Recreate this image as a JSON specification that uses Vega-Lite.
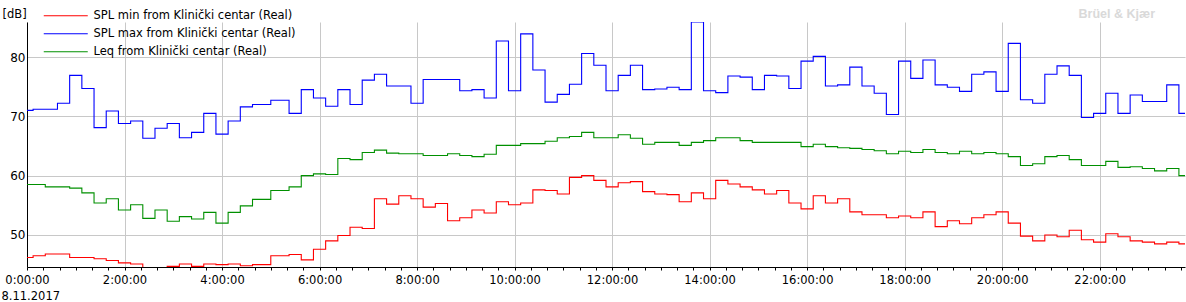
{
  "$schema": "https://vega.github.io/schema/vega-lite/v6.json",
  "width": 1158,
  "height": 245,
  "autosize": {"type": "none"},
  "padding": {"left": 27, "top": 22, "right": 1, "bottom": 35},
  "background": "white",
  "config": {"view": {"stroke": null}, "font": "DejaVu Sans"},
  "layer": [
    {
      "data": {
        "values": [
          {"t": "2017-11-08T00:00:00", "min": 46.2, "max": 71.0, "leq": 58.5},
          {"t": "2017-11-08T00:07:30", "min": 46.5, "max": 71.2, "leq": 58.5},
          {"t": "2017-11-08T00:22:30", "min": 46.8, "max": 71.2, "leq": 58.1},
          {"t": "2017-11-08T00:37:30", "min": 46.8, "max": 72.2, "leq": 58.1},
          {"t": "2017-11-08T00:52:30", "min": 46.2, "max": 76.9, "leq": 57.9},
          {"t": "2017-11-08T01:07:30", "min": 46.2, "max": 74.7, "leq": 57.1},
          {"t": "2017-11-08T01:22:30", "min": 46.0, "max": 68.1, "leq": 55.4},
          {"t": "2017-11-08T01:37:30", "min": 45.7, "max": 70.9, "leq": 56.1},
          {"t": "2017-11-08T01:52:30", "min": 45.3, "max": 68.8, "leq": 54.2},
          {"t": "2017-11-08T02:07:30", "min": 45.1, "max": 69.2, "leq": 55.1},
          {"t": "2017-11-08T02:22:30", "min": 44.3, "max": 66.3, "leq": 52.8},
          {"t": "2017-11-08T02:37:30", "min": 44.3, "max": 68.0, "leq": 54.2},
          {"t": "2017-11-08T02:52:30", "min": 44.7, "max": 68.8, "leq": 52.3},
          {"t": "2017-11-08T03:07:30", "min": 45.1, "max": 66.4, "leq": 53.1},
          {"t": "2017-11-08T03:22:30", "min": 44.7, "max": 67.3, "leq": 52.7},
          {"t": "2017-11-08T03:37:30", "min": 45.1, "max": 70.5, "leq": 53.8},
          {"t": "2017-11-08T03:52:30", "min": 45.0, "max": 67.0, "leq": 52.0},
          {"t": "2017-11-08T04:07:30", "min": 45.1, "max": 69.2, "leq": 53.8},
          {"t": "2017-11-08T04:22:30", "min": 44.8, "max": 71.6, "leq": 54.9},
          {"t": "2017-11-08T04:37:30", "min": 45.0, "max": 72.0, "leq": 56.0},
          {"t": "2017-11-08T05:00:00", "min": 46.5, "max": 72.7, "leq": 57.5},
          {"t": "2017-11-08T05:22:30", "min": 46.7, "max": 70.5, "leq": 58.1},
          {"t": "2017-11-08T05:37:30", "min": 45.8, "max": 74.5, "leq": 60.0},
          {"t": "2017-11-08T05:52:30", "min": 47.6, "max": 73.1, "leq": 60.3},
          {"t": "2017-11-08T06:07:30", "min": 49.0, "max": 71.7, "leq": 60.2},
          {"t": "2017-11-08T06:22:30", "min": 49.9, "max": 74.5, "leq": 62.9},
          {"t": "2017-11-08T06:37:30", "min": 51.3, "max": 72.0, "leq": 62.7},
          {"t": "2017-11-08T06:52:30", "min": 51.1, "max": 76.1, "leq": 63.9},
          {"t": "2017-11-08T07:07:30", "min": 56.1, "max": 77.1, "leq": 64.3},
          {"t": "2017-11-08T07:22:30", "min": 55.2, "max": 75.1, "leq": 63.8},
          {"t": "2017-11-08T07:37:30", "min": 56.6, "max": 75.1, "leq": 63.7},
          {"t": "2017-11-08T07:52:30", "min": 56.1, "max": 72.2, "leq": 63.7},
          {"t": "2017-11-08T08:07:30", "min": 54.7, "max": 76.2, "leq": 63.4},
          {"t": "2017-11-08T08:22:30", "min": 55.3, "max": 76.2, "leq": 63.4},
          {"t": "2017-11-08T08:37:30", "min": 52.4, "max": 76.2, "leq": 63.7},
          {"t": "2017-11-08T08:52:30", "min": 52.9, "max": 74.3, "leq": 63.4},
          {"t": "2017-11-08T09:07:30", "min": 54.2, "max": 74.5, "leq": 63.2},
          {"t": "2017-11-08T09:22:30", "min": 53.7, "max": 73.1, "leq": 63.6},
          {"t": "2017-11-08T09:37:30", "min": 55.6, "max": 82.7, "leq": 65.1},
          {"t": "2017-11-08T09:52:30", "min": 55.1, "max": 74.3, "leq": 65.1},
          {"t": "2017-11-08T10:07:30", "min": 55.4, "max": 83.9, "leq": 65.4},
          {"t": "2017-11-08T10:22:30", "min": 57.6, "max": 77.8, "leq": 65.4},
          {"t": "2017-11-08T10:37:30", "min": 57.5, "max": 72.4, "leq": 65.8},
          {"t": "2017-11-08T10:52:30", "min": 56.9, "max": 73.7, "leq": 66.4},
          {"t": "2017-11-08T11:07:30", "min": 59.7, "max": 75.4, "leq": 66.6},
          {"t": "2017-11-08T11:22:30", "min": 60.0, "max": 80.6, "leq": 67.3},
          {"t": "2017-11-08T11:37:30", "min": 59.2, "max": 78.6, "leq": 66.4},
          {"t": "2017-11-08T11:52:30", "min": 58.1, "max": 74.3, "leq": 66.4},
          {"t": "2017-11-08T12:07:30", "min": 58.8, "max": 76.9, "leq": 66.9},
          {"t": "2017-11-08T12:22:30", "min": 59.0, "max": 78.6, "leq": 66.3},
          {"t": "2017-11-08T12:37:30", "min": 57.3, "max": 74.5, "leq": 65.3},
          {"t": "2017-11-08T12:52:30", "min": 56.9, "max": 74.6, "leq": 65.6},
          {"t": "2017-11-08T13:07:30", "min": 56.8, "max": 74.9, "leq": 65.6},
          {"t": "2017-11-08T13:22:30", "min": 55.6, "max": 74.5, "leq": 65.1},
          {"t": "2017-11-08T13:37:30", "min": 57.1, "max": 85.9, "leq": 65.6},
          {"t": "2017-11-08T13:52:30", "min": 56.1, "max": 74.3, "leq": 65.9},
          {"t": "2017-11-08T14:07:30", "min": 59.2, "max": 74.0, "leq": 66.4},
          {"t": "2017-11-08T14:22:30", "min": 58.6, "max": 76.8, "leq": 66.4},
          {"t": "2017-11-08T14:37:30", "min": 58.1, "max": 76.6, "leq": 65.9},
          {"t": "2017-11-08T14:52:30", "min": 57.6, "max": 74.5, "leq": 65.6},
          {"t": "2017-11-08T15:07:30", "min": 56.9, "max": 76.9, "leq": 65.6},
          {"t": "2017-11-08T15:22:30", "min": 57.5, "max": 76.8, "leq": 65.6},
          {"t": "2017-11-08T15:37:30", "min": 55.4, "max": 74.7, "leq": 65.6},
          {"t": "2017-11-08T15:52:30", "min": 54.4, "max": 79.3, "leq": 64.9},
          {"t": "2017-11-08T16:07:30", "min": 56.6, "max": 80.1, "leq": 65.3},
          {"t": "2017-11-08T16:22:30", "min": 55.4, "max": 75.1, "leq": 64.9},
          {"t": "2017-11-08T16:37:30", "min": 56.1, "max": 75.3, "leq": 64.7},
          {"t": "2017-11-08T16:52:30", "min": 53.9, "max": 78.3, "leq": 64.6},
          {"t": "2017-11-08T17:07:30", "min": 53.4, "max": 75.1, "leq": 64.4},
          {"t": "2017-11-08T17:22:30", "min": 53.4, "max": 73.9, "leq": 64.2},
          {"t": "2017-11-08T17:37:30", "min": 52.9, "max": 70.3, "leq": 63.7},
          {"t": "2017-11-08T17:52:30", "min": 53.2, "max": 79.3, "leq": 64.1},
          {"t": "2017-11-08T18:07:30", "min": 52.9, "max": 76.4, "leq": 63.9},
          {"t": "2017-11-08T18:22:30", "min": 53.9, "max": 79.5, "leq": 64.4},
          {"t": "2017-11-08T18:37:30", "min": 51.4, "max": 75.3, "leq": 63.9},
          {"t": "2017-11-08T18:52:30", "min": 52.4, "max": 74.9, "leq": 63.7},
          {"t": "2017-11-08T19:07:30", "min": 51.9, "max": 74.2, "leq": 64.1},
          {"t": "2017-11-08T19:22:30", "min": 52.9, "max": 77.1, "leq": 63.7},
          {"t": "2017-11-08T19:37:30", "min": 53.4, "max": 77.5, "leq": 63.9},
          {"t": "2017-11-08T19:52:30", "min": 53.9, "max": 74.2, "leq": 63.7},
          {"t": "2017-11-08T20:07:30", "min": 52.0, "max": 82.3, "leq": 63.2},
          {"t": "2017-11-08T20:22:30", "min": 49.8, "max": 72.8, "leq": 61.7},
          {"t": "2017-11-08T20:37:30", "min": 49.0, "max": 72.2, "leq": 62.0},
          {"t": "2017-11-08T20:52:30", "min": 50.0, "max": 77.1, "leq": 63.2},
          {"t": "2017-11-08T21:07:30", "min": 49.7, "max": 78.5, "leq": 63.4},
          {"t": "2017-11-08T21:22:30", "min": 50.8, "max": 76.9, "leq": 62.7},
          {"t": "2017-11-08T21:37:30", "min": 49.2, "max": 69.8, "leq": 61.7},
          {"t": "2017-11-08T21:52:30", "min": 48.8, "max": 70.5, "leq": 61.7},
          {"t": "2017-11-08T22:07:30", "min": 50.2, "max": 73.9, "leq": 62.4},
          {"t": "2017-11-08T22:22:30", "min": 49.7, "max": 70.5, "leq": 61.4},
          {"t": "2017-11-08T22:37:30", "min": 49.0, "max": 73.6, "leq": 61.5},
          {"t": "2017-11-08T22:52:30", "min": 48.8, "max": 72.5, "leq": 61.2},
          {"t": "2017-11-08T23:07:30", "min": 48.5, "max": 72.5, "leq": 60.8},
          {"t": "2017-11-08T23:22:30", "min": 48.8, "max": 75.3, "leq": 61.2},
          {"t": "2017-11-08T23:37:30", "min": 48.5, "max": 70.5, "leq": 60.0},
          {"t": "2017-11-08T23:45:00", "min": 48.5, "max": 70.5, "leq": 60.0}
        ]
      },
      "transform": [{"fold": ["min", "max", "leq"], "as": ["series", "value"]}],
      "mark": {"type": "line", "interpolate": "step-after", "strokeWidth": 1.1, "clip": true},
      "encoding": {
        "x": {
          "field": "t",
          "type": "temporal",
          "scale": {
            "domain": [
              {"year": 2017, "month": 11, "date": 8, "hours": 0, "minutes": 0},
              {"year": 2017, "month": 11, "date": 8, "hours": 23, "minutes": 45}
            ]
          },
          "axis": {
            "title": "8.11.2017",
            "titleX": -26,
            "titleY": 23,
            "titleAlign": "left",
            "titleFontWeight": "normal",
            "titleFontSize": 11.5,
            "titleColor": "#000000",
            "format": "%-H:%M:%S",
            "tickCount": 100,
            "values": [
              {"year": 2017, "month": 11, "date": 8, "hours": 0, "minutes": 0},
              {"year": 2017, "month": 11, "date": 8, "hours": 0, "minutes": 20},
              {"year": 2017, "month": 11, "date": 8, "hours": 0, "minutes": 40},
              {"year": 2017, "month": 11, "date": 8, "hours": 1, "minutes": 0},
              {"year": 2017, "month": 11, "date": 8, "hours": 1, "minutes": 20},
              {"year": 2017, "month": 11, "date": 8, "hours": 1, "minutes": 40},
              {"year": 2017, "month": 11, "date": 8, "hours": 2, "minutes": 0},
              {"year": 2017, "month": 11, "date": 8, "hours": 2, "minutes": 20},
              {"year": 2017, "month": 11, "date": 8, "hours": 2, "minutes": 40},
              {"year": 2017, "month": 11, "date": 8, "hours": 3, "minutes": 0},
              {"year": 2017, "month": 11, "date": 8, "hours": 3, "minutes": 20},
              {"year": 2017, "month": 11, "date": 8, "hours": 3, "minutes": 40},
              {"year": 2017, "month": 11, "date": 8, "hours": 4, "minutes": 0},
              {"year": 2017, "month": 11, "date": 8, "hours": 4, "minutes": 20},
              {"year": 2017, "month": 11, "date": 8, "hours": 4, "minutes": 40},
              {"year": 2017, "month": 11, "date": 8, "hours": 5, "minutes": 0},
              {"year": 2017, "month": 11, "date": 8, "hours": 5, "minutes": 20},
              {"year": 2017, "month": 11, "date": 8, "hours": 5, "minutes": 40},
              {"year": 2017, "month": 11, "date": 8, "hours": 6, "minutes": 0},
              {"year": 2017, "month": 11, "date": 8, "hours": 6, "minutes": 20},
              {"year": 2017, "month": 11, "date": 8, "hours": 6, "minutes": 40},
              {"year": 2017, "month": 11, "date": 8, "hours": 7, "minutes": 0},
              {"year": 2017, "month": 11, "date": 8, "hours": 7, "minutes": 20},
              {"year": 2017, "month": 11, "date": 8, "hours": 7, "minutes": 40},
              {"year": 2017, "month": 11, "date": 8, "hours": 8, "minutes": 0},
              {"year": 2017, "month": 11, "date": 8, "hours": 8, "minutes": 20},
              {"year": 2017, "month": 11, "date": 8, "hours": 8, "minutes": 40},
              {"year": 2017, "month": 11, "date": 8, "hours": 9, "minutes": 0},
              {"year": 2017, "month": 11, "date": 8, "hours": 9, "minutes": 20},
              {"year": 2017, "month": 11, "date": 8, "hours": 9, "minutes": 40},
              {"year": 2017, "month": 11, "date": 8, "hours": 10, "minutes": 0},
              {"year": 2017, "month": 11, "date": 8, "hours": 10, "minutes": 20},
              {"year": 2017, "month": 11, "date": 8, "hours": 10, "minutes": 40},
              {"year": 2017, "month": 11, "date": 8, "hours": 11, "minutes": 0},
              {"year": 2017, "month": 11, "date": 8, "hours": 11, "minutes": 20},
              {"year": 2017, "month": 11, "date": 8, "hours": 11, "minutes": 40},
              {"year": 2017, "month": 11, "date": 8, "hours": 12, "minutes": 0},
              {"year": 2017, "month": 11, "date": 8, "hours": 12, "minutes": 20},
              {"year": 2017, "month": 11, "date": 8, "hours": 12, "minutes": 40},
              {"year": 2017, "month": 11, "date": 8, "hours": 13, "minutes": 0},
              {"year": 2017, "month": 11, "date": 8, "hours": 13, "minutes": 20},
              {"year": 2017, "month": 11, "date": 8, "hours": 13, "minutes": 40},
              {"year": 2017, "month": 11, "date": 8, "hours": 14, "minutes": 0},
              {"year": 2017, "month": 11, "date": 8, "hours": 14, "minutes": 20},
              {"year": 2017, "month": 11, "date": 8, "hours": 14, "minutes": 40},
              {"year": 2017, "month": 11, "date": 8, "hours": 15, "minutes": 0},
              {"year": 2017, "month": 11, "date": 8, "hours": 15, "minutes": 20},
              {"year": 2017, "month": 11, "date": 8, "hours": 15, "minutes": 40},
              {"year": 2017, "month": 11, "date": 8, "hours": 16, "minutes": 0},
              {"year": 2017, "month": 11, "date": 8, "hours": 16, "minutes": 20},
              {"year": 2017, "month": 11, "date": 8, "hours": 16, "minutes": 40},
              {"year": 2017, "month": 11, "date": 8, "hours": 17, "minutes": 0},
              {"year": 2017, "month": 11, "date": 8, "hours": 17, "minutes": 20},
              {"year": 2017, "month": 11, "date": 8, "hours": 17, "minutes": 40},
              {"year": 2017, "month": 11, "date": 8, "hours": 18, "minutes": 0},
              {"year": 2017, "month": 11, "date": 8, "hours": 18, "minutes": 20},
              {"year": 2017, "month": 11, "date": 8, "hours": 18, "minutes": 40},
              {"year": 2017, "month": 11, "date": 8, "hours": 19, "minutes": 0},
              {"year": 2017, "month": 11, "date": 8, "hours": 19, "minutes": 20},
              {"year": 2017, "month": 11, "date": 8, "hours": 19, "minutes": 40},
              {"year": 2017, "month": 11, "date": 8, "hours": 20, "minutes": 0},
              {"year": 2017, "month": 11, "date": 8, "hours": 20, "minutes": 20},
              {"year": 2017, "month": 11, "date": 8, "hours": 20, "minutes": 40},
              {"year": 2017, "month": 11, "date": 8, "hours": 21, "minutes": 0},
              {"year": 2017, "month": 11, "date": 8, "hours": 21, "minutes": 20},
              {"year": 2017, "month": 11, "date": 8, "hours": 21, "minutes": 40},
              {"year": 2017, "month": 11, "date": 8, "hours": 22, "minutes": 0},
              {"year": 2017, "month": 11, "date": 8, "hours": 22, "minutes": 20},
              {"year": 2017, "month": 11, "date": 8, "hours": 22, "minutes": 40},
              {"year": 2017, "month": 11, "date": 8, "hours": 23, "minutes": 0},
              {"year": 2017, "month": 11, "date": 8, "hours": 23, "minutes": 20},
              {"year": 2017, "month": 11, "date": 8, "hours": 23, "minutes": 40}
            ],
            "labelOverlap": false,
            "labelFlush": false,
            "labelPadding": 4,
            "labelFontSize": 11.5,
            "labelColor": "#000000",
            "labelOpacity": {"condition": {"test": "hours(datum.value) % 2 == 0 && minutes(datum.value) == 0", "value": 1}, "value": 0},
            "grid": true,
            "gridColor": "#c8c8c8",
            "gridOpacity": {"condition": {"test": "hours(datum.value) % 2 == 0 && minutes(datum.value) == 0", "value": 1}, "value": 0},
            "tickColor": "#000000",
            "tickSize": 3,
            "domainColor": "#000000"
          }
        },
        "y": {
          "field": "value",
          "type": "quantitative",
          "scale": {"domain": [44.6, 85.9], "nice": false, "zero": false},
          "axis": {
            "title": "[dB]",
            "titleAngle": 0,
            "titleAlign": "left",
            "titleBaseline": "middle",
            "titleX": -25,
            "titleY": -8,
            "titleFontWeight": "normal",
            "titleFontSize": 11.5,
            "titleColor": "#000000",
            "values": [50, 60, 70, 80],
            "ticks": false,
            "tickSize": 0,
            "labelPadding": 2,
            "labelFontSize": 12,
            "labelColor": "#000000",
            "grid": true,
            "gridColor": "#c8c8c8",
            "domainColor": "#000000"
          }
        },
        "color": {
          "field": "series",
          "type": "nominal",
          "scale": {"domain": ["min", "max", "leq"], "range": ["#ff0000", "#0000ff", "#009000"]},
          "legend": {
            "orient": "none",
            "legendX": 33,
            "legendY": -12,
            "direction": "vertical",
            "title": null,
            "rowPadding": 5,
            "labelOffset": 22,
            "labelFontSize": 11.5,
            "labelColor": "#000000",
            "labelLimit": 400,
            "symbolType": "M-4.4,0H4.4",
            "symbolSize": 100,
            "symbolStrokeWidth": 1,
            "labelExpr": "datum.value == 'min' ? 'SPL min from Klinički centar (Real)' : datum.value == 'max' ? 'SPL max from Klinički centar (Real)' : 'Leq from Klinički centar (Real)'"
          }
        }
      }
    },
    {
      "data": {"values": [{"mark": "Brüel & Kjær"}]},
      "mark": {
        "type": "text",
        "align": "right",
        "baseline": "alphabetic",
        "dx": -30,
        "dy": -4,
        "font": "Liberation Sans",
        "fontSize": 12.5,
        "fontWeight": "bold",
        "color": "#d9d9d9",
        "clip": false
      },
      "encoding": {
        "text": {"field": "mark", "type": "nominal"},
        "x": {"datum": {"year": 2017, "month": 11, "date": 8, "hours": 23, "minutes": 45}, "type": "temporal"},
        "y": {"datum": 85.9, "type": "quantitative"}
      }
    }
  ]
}
